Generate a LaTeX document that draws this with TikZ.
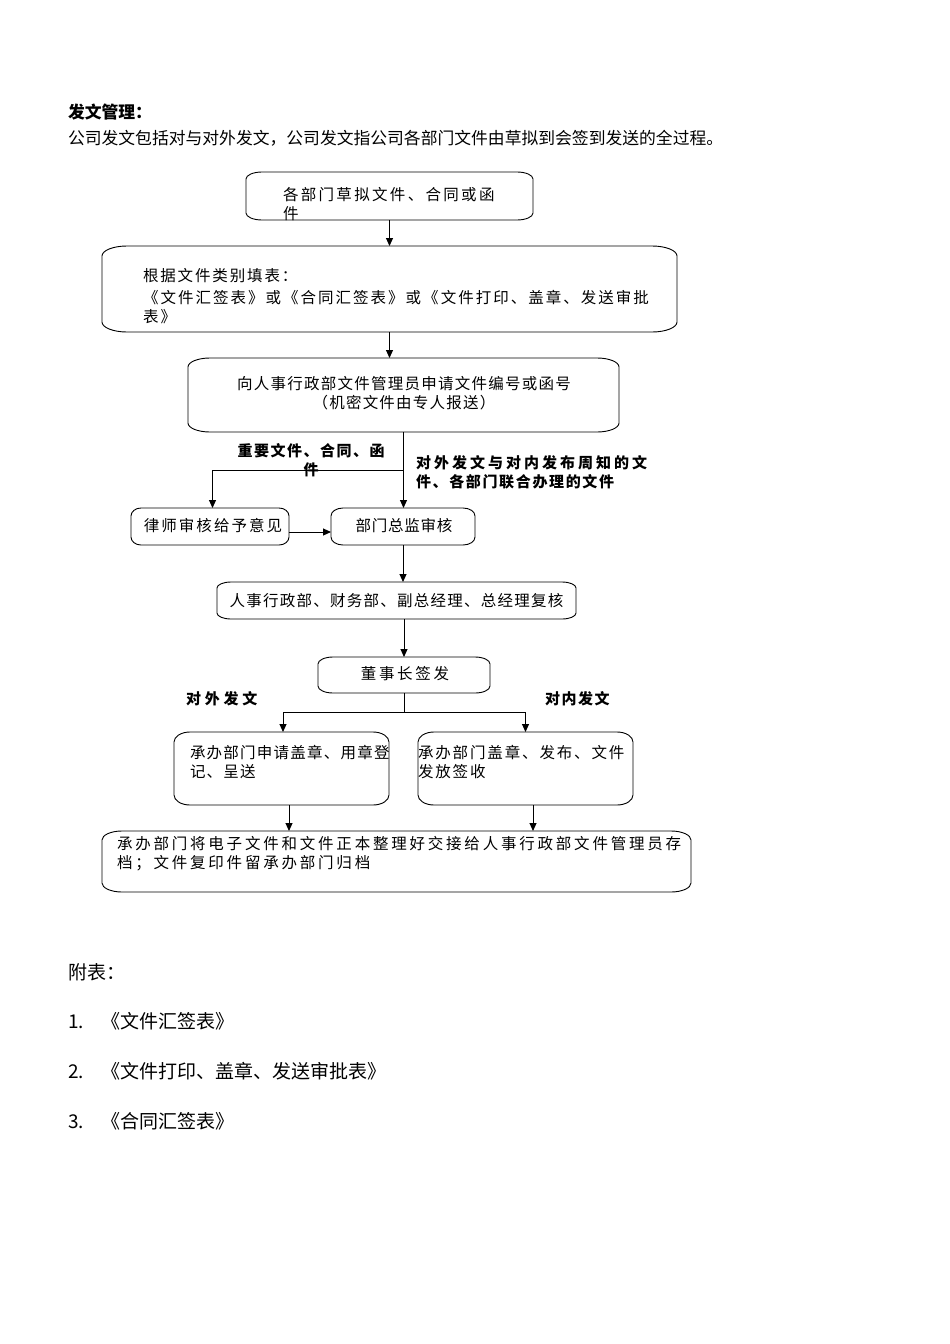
\documentclass[tikz,border=0pt]{standalone}
\usepackage{fontspec}
\setmainfont{Noto Sans CJK SC}
\usetikzlibrary{arrows.meta,calc}
\newcommand\lsp[1]{\addfontfeature{LetterSpace=#1}}
\newcommand\flowbox[3]{%
  \draw[boxline] let \p1=(#1.north west), \p2=(#1.south east) in
    (\x1,\y1-#3pt) -- (\x1,\y2+#3pt)
    arc[start angle=180,end angle=270,x radius=#2pt,y radius=#3pt]
    -- (\x2-#2pt,\y2)
    arc[start angle=270,end angle=360,x radius=#2pt,y radius=#3pt]
    -- (\x2,\y1-#3pt)
    arc[start angle=0,end angle=90,x radius=#2pt,y radius=#3pt]
    -- (\x1+#2pt,\y1)
    arc[start angle=90,end angle=180,x radius=#2pt,y radius=#3pt] -- cycle;}
\begin{document}
\begin{tikzpicture}[x=1pt,y=-1pt,
  every node/.style={inner sep=0pt, outer sep=0pt},
  boxshape/.style={draw=none, inner sep=0pt},
  boxline/.style={line width=0.9pt, black},
  arr/.style={line width=1pt, -{Triangle[length=8pt,width=7pt]}},
  link/.style={line width=1pt},
  body/.style={font=\fontsize{16.8}{20}\selectfont},
  btxt/.style={font=\fontsize{15.5}{19}\selectfont},
  lbl/.style={font=\fontsize{15}{19}\selectfont\bfseries},
  appx/.style={font=\fontsize{19}{22}\selectfont, anchor=base west}]
\fill[white] (0,0) rectangle (950,1344);
\useasboundingbox (0,0) rectangle (950,1344);

% header
\node[anchor=base west, font=\fontsize{16.8}{20}\selectfont\bfseries] (title) at (68,118.5) {发文管理：};
\node[body, anchor=base west] (intro) at (68,144.5) {公司发文包括对与对外发文，公司发文指公司各部门文件由草拟到会签到发送的全过程。};

% boxes
\node[boxshape, minimum width=287pt, minimum height=48pt] (draft) at (389.5,196) {};
\node[boxshape, minimum width=575pt, minimum height=86pt] (fill) at (389.5,289) {};
\node[boxshape, minimum width=431pt, minimum height=74pt] (apply) at (403.5,395) {};
\node[boxshape, minimum width=158pt, minimum height=37pt] (lawyer) at (210,526.5) {};
\node[boxshape, minimum width=144pt, minimum height=37pt] (director) at (403,526.5) {};
\node[boxshape, minimum width=359pt, minimum height=37pt] (review) at (396.5,600.5) {};
\node[boxshape, minimum width=172pt, minimum height=36pt] (chairman) at (404,675) {};
\node[boxshape, minimum width=215pt, minimum height=73pt] (outside) at (281.5,768.5) {};
\node[boxshape, minimum width=215pt, minimum height=73pt] (inside) at (525.5,768.5) {};
\node[boxshape, minimum width=589pt, minimum height=61pt] (archive) at (396.5,861.5) {};

\flowbox{draft}{16}{7}
\flowbox{fill}{25}{10}
\flowbox{apply}{22}{9}
\flowbox{lawyer}{10}{8}
\flowbox{director}{12}{8}
\flowbox{review}{14}{6}
\flowbox{chairman}{15}{7}
\flowbox{outside}{16}{10}
\flowbox{inside}{16}{10}
\flowbox{archive}{20}{9}

% box texts (base anchor = baseline of the last line)
\node[btxt, anchor=base west, align=left] (draftT) at (283,219) {\lsp{15}各部门草拟文件、合同或函\\\lsp{15}件};
\node[btxt, anchor=base west, align=left] (fillT) at (143,322) {\lsp{12}根据文件类别填表：\\[3pt]\lsp{13}《文件汇签表》或《合同汇签表》或《文件打印、盖章、发送审批\\\lsp{13}表》};
\node[btxt, anchor=base, align=center] (applyT) at (404,408) {\lsp{8}向人事行政部文件管理员申请文件编号或函号\\\lsp{8}（机密文件由专人报送）};
\node[btxt, anchor=base] (lawyerT) at (213,531) {\lsp{13}律师审核给予意见};
\node[btxt, anchor=base] (directorT) at (404,531) {\lsp{5}部门总监审核};
\node[btxt, anchor=base] (reviewT) at (396.5,606) {\lsp{8}人事行政部、财务部、副总经理、总经理复核};
\node[btxt, anchor=base] (chairmanT) at (405,679) {\lsp{17}董事长签发};
\node[btxt, anchor=base west, align=left] (outsideT) at (190,777) {\lsp{8}承办部门申请盖章、用章登\\\lsp{8}记、呈送};
\node[btxt, anchor=base west, align=left] (insideT) at (418,777) {\lsp{12}承办部门盖章、发布、文件\\\lsp{12}发放签收};
\node[btxt, anchor=base west, align=left] (archiveT) at (117,868) {\lsp{18}承办部门将电子文件和文件正本整理好交接给人事行政部文件管理员存\\\lsp{18}档；文件复印件留承办部门归档};

% labels
\node[lbl, anchor=base, align=center] (lblImp) at (311,475.5) {\lsp{10}重要文件、合同、函\\\lsp{10}件};
\node[lbl, anchor=base west, align=left] (lblPub) at (416,487) {\lsp{20}对外发文与对内发布周知的文\\\lsp{11}件、各部门联合办理的文件};
\node[lbl, anchor=base west] (lblOut) at (186,704) {\lsp{25}对外发文};
\node[lbl, anchor=base west] (lblIn) at (545,704) {\lsp{10}对内发文};

% connectors
\draw[arr] (draft.south) -- (fill.north);
\draw[arr] (fill.south) -- (fill.south |- apply.north);
\draw[arr] (apply.south) -- (apply.south |- director.north);
\coordinate (fork1) at (403.5,470);
\draw[arr] (fork1) -| ([xshift=2.5pt]lawyer.north);
\draw[arr] ([yshift=-5.5pt]lawyer.east) -- ([yshift=-5.5pt]lawyer.east -| director.west);
\draw[arr] (director.south) -- (director.south |- review.north);
\draw[arr] (chairman.north |- review.south) -- (chairman.north);
\coordinate (fork2) at (404,712);
\draw[link] (chairman.south) -- (fork2);
\draw[arr] (fork2) -| ([xshift=1.5pt]outside.north);
\draw[arr] (fork2) -| (inside.north);
\draw[arr] ([xshift=7.5pt]outside.south) -- ([xshift=7.5pt]outside.south |- archive.north);
\draw[arr] ([xshift=7.5pt]inside.south) -- ([xshift=7.5pt]inside.south |- archive.north);

% appendix
\node[appx] (appxT) at (68,979) {附表：};
\node[appx] (item1) at (68,1028.5) {\makebox[34pt][l]{1.}《文件汇签表》};
\node[appx] (item2) at (68,1078.5) {\makebox[34pt][l]{2.}《文件打印、盖章、发送审批表》};
\node[appx] (item3) at (68,1128.5) {\makebox[34pt][l]{3.}《合同汇签表》};
\end{tikzpicture}
\end{document}
